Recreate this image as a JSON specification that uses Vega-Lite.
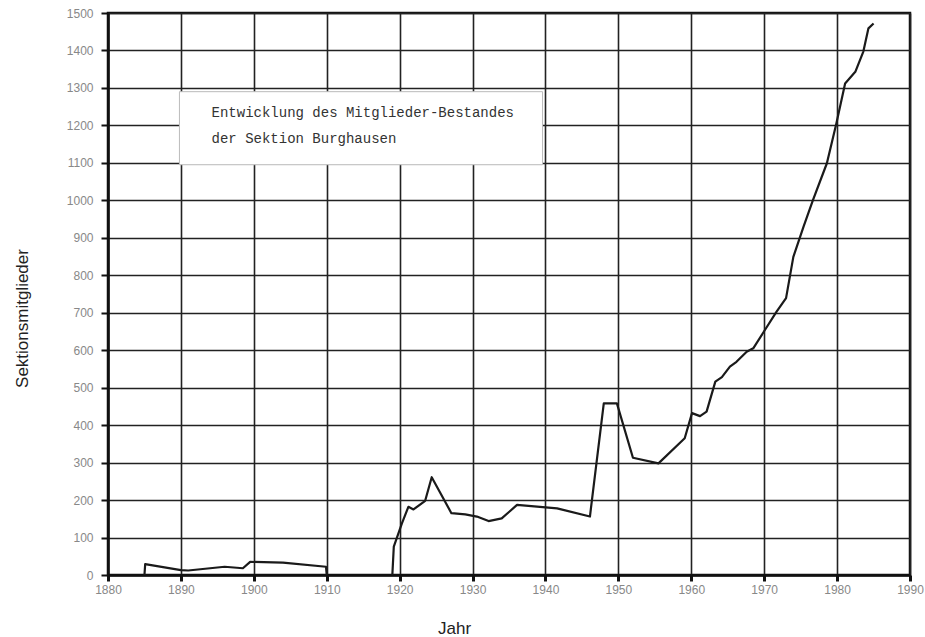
{
  "$schema": "https://vega.github.io/schema/vega-lite/v6.json",
  "width": 802,
  "height": 562,
  "autosize": {"type": "none"},
  "padding": {"left": 108, "top": 13, "right": 15, "bottom": 62},
  "background": "white",
  "config": {
    "view": {"stroke": "#111", "strokeWidth": 2.5},
    "font": "Liberation Sans"
  },
  "datasets": {
    "members": [
      {"year": 1885.0, "value": 0, "seg": "a"},
      {"year": 1885.1, "value": 29, "seg": "a"},
      {"year": 1890.0, "value": 13, "seg": "a"},
      {"year": 1891.0, "value": 12, "seg": "a"},
      {"year": 1896.0, "value": 22, "seg": "a"},
      {"year": 1898.5, "value": 18, "seg": "a"},
      {"year": 1899.5, "value": 35, "seg": "a"},
      {"year": 1904.0, "value": 33, "seg": "a"},
      {"year": 1909.9, "value": 22, "seg": "a"},
      {"year": 1910.0, "value": 0, "seg": "a"},
      {"year": 1919.0, "value": 0, "seg": "b"},
      {"year": 1919.2, "value": 76, "seg": "b"},
      {"year": 1920.3, "value": 137, "seg": "b"},
      {"year": 1921.2, "value": 182, "seg": "b"},
      {"year": 1921.9, "value": 175, "seg": "b"},
      {"year": 1923.5, "value": 198, "seg": "b"},
      {"year": 1924.4, "value": 261, "seg": "b"},
      {"year": 1927.1, "value": 165, "seg": "b"},
      {"year": 1929.0, "value": 162, "seg": "b"},
      {"year": 1930.6, "value": 156, "seg": "b"},
      {"year": 1932.2, "value": 144, "seg": "b"},
      {"year": 1934.0, "value": 151, "seg": "b"},
      {"year": 1936.1, "value": 187, "seg": "b"},
      {"year": 1941.6, "value": 178, "seg": "b"},
      {"year": 1946.1, "value": 156, "seg": "b"},
      {"year": 1948.0, "value": 458, "seg": "b"},
      {"year": 1949.8, "value": 458, "seg": "b"},
      {"year": 1952.0, "value": 313, "seg": "b"},
      {"year": 1955.5, "value": 298, "seg": "b"},
      {"year": 1959.1, "value": 365, "seg": "b"},
      {"year": 1960.1, "value": 432, "seg": "b"},
      {"year": 1961.2, "value": 424, "seg": "b"},
      {"year": 1962.1, "value": 436, "seg": "b"},
      {"year": 1963.3, "value": 516, "seg": "b"},
      {"year": 1964.2, "value": 528, "seg": "b"},
      {"year": 1965.3, "value": 556, "seg": "b"},
      {"year": 1966.2, "value": 569, "seg": "b"},
      {"year": 1967.6, "value": 596, "seg": "b"},
      {"year": 1968.5, "value": 605, "seg": "b"},
      {"year": 1970.1, "value": 654, "seg": "b"},
      {"year": 1971.7, "value": 703, "seg": "b"},
      {"year": 1973.0, "value": 739, "seg": "b"},
      {"year": 1974.0, "value": 849, "seg": "b"},
      {"year": 1975.4, "value": 930, "seg": "b"},
      {"year": 1976.7, "value": 1001, "seg": "b"},
      {"year": 1978.6, "value": 1099, "seg": "b"},
      {"year": 1979.9, "value": 1205, "seg": "b"},
      {"year": 1981.1, "value": 1312, "seg": "b"},
      {"year": 1982.5, "value": 1343, "seg": "b"},
      {"year": 1983.6, "value": 1397, "seg": "b"},
      {"year": 1984.3, "value": 1459, "seg": "b"},
      {"year": 1985.0, "value": 1472, "seg": "b"}
    ],
    "box": [
      {"year": 1889.8, "year2": 1939.6, "value": 1095, "value2": 1290}
    ],
    "notes": [
      {"year": 1894.2, "value": 1232, "text": "Entwicklung des Mitglieder-Bestandes"},
      {"year": 1894.2, "value": 1163, "text": "der Sektion Burghausen"}
    ]
  },
  "encoding": {
    "x": {
      "field": "year", "type": "quantitative",
      "scale": {"domain": [1880, 1990], "nice": false, "zero": false},
      "axis": {
        "values": [1880, 1890, 1900, 1910, 1920, 1930, 1940, 1950, 1960, 1970, 1980, 1990],
        "tickCount": 30,
        "format": "d",
        "title": "Jahr",
        "titleFont": "Liberation Sans", "titleFontSize": 17, "titleFontWeight": "normal",
        "titleColor": "#222", "titleX": 346, "titleY": 53, "titleBaseline": "middle", "titleAlign": "center",
        "labelFont": "Liberation Sans", "labelFontSize": 12, "labelColor": "#888",
        "labelPadding": 3, "labelOverlap": false, "labelFlush": false,
        "tickSize": 6, "tickWidth": 3, "tickColor": "#111",
        "domainColor": "#111", "domainWidth": 2.5,
        "grid": true, "gridColor": "#222", "gridWidth": 1.6, "gridOpacity": 1
      }
    },
    "y": {
      "field": "value", "type": "quantitative",
      "scale": {"domain": [0, 1500], "nice": false},
      "axis": {
        "values": [0, 100, 200, 300, 400, 500, 600, 700, 800, 900, 1000, 1100, 1200, 1300, 1400, 1500],
        "tickCount": 30,
        "format": "d",
        "title": "Sektionsmitglieder",
        "titleFont": "Liberation Sans", "titleFontSize": 17, "titleFontWeight": "normal",
        "titleColor": "#222", "titleX": -86, "titleY": 305, "titleBaseline": "middle", "titleAlign": "center",
        "labelFont": "Liberation Sans", "labelFontSize": 12, "labelColor": "#888",
        "labelPadding": 8, "labelOverlap": false, "labelFlush": false,
        "tickSize": 7, "tickWidth": 2, "tickColor": "#111",
        "domainColor": "#111", "domainWidth": 2.5,
        "grid": true, "gridColor": "#222", "gridWidth": 1.6, "gridOpacity": 1
      }
    }
  },
  "layer": [
    {
      "data": {"name": "members"},
      "mark": {"type": "line", "color": "#1a1a1a", "strokeWidth": 2.2, "strokeJoin": "round"},
      "encoding": {
        "detail": {"field": "seg"}
      }
    },
    {
      "data": {"name": "box"},
      "mark": {"type": "rect", "fill": "white", "stroke": "#bbb", "strokeWidth": 1},
      "encoding": {
        "x2": {"field": "year2"},
        "y2": {"field": "value2"}
      }
    },
    {
      "data": {"name": "notes"},
      "mark": {"type": "text", "align": "left", "baseline": "middle", "font": "Liberation Mono", "fontSize": 14, "color": "#333"},
      "encoding": {
        "text": {"field": "text"}
      }
    }
  ]
}
